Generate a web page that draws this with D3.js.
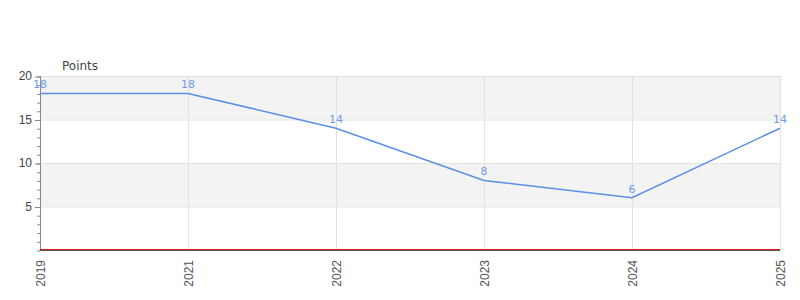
<!DOCTYPE html>
<html>
<head>
<meta charset="utf-8">
<script src="https://cdn.jsdelivr.net/npm/d3@7"></script>
<style>
  body { margin: 0; background: #fff; }
  svg { font-family: "DejaVu Sans", sans-serif; }
</style>
</head>
<body>
<div id="chart"></div>
<script>
"use strict";

var years = ["2019", "2021", "2022", "2023", "2024", "2025"];
var points = [18, 18, 14, 8, 6, 14];
var baseline = [0, 0, 0, 0, 0, 0];
var yTicks = [5, 10, 15, 20];
var yBands = [[15, 20], [5, 10]];

var width = 800, height = 300;
var margin = {top: 76, right: 20, bottom: 50, left: 40};
var innerW = width - margin.left - margin.right;
var innerH = height - margin.top - margin.bottom;

var svg = d3.select("#chart").append("svg")
	.attr("width", width)
	.attr("height", height);

var g = svg.append("g")
	.attr("transform", "translate(" + margin.left + "," + margin.top + ")");

var x = d3.scalePoint().domain(years).range([0, innerW]);
var y = d3.scaleLinear().domain([0, 20]).range([innerH, 0]);

// alternating bands
g.selectAll(".band")
	.data(yBands)
	.enter().append("rect")
	.attr("x", 0)
	.attr("width", innerW)
	.attr("y", function(d) { return y(d[1]); })
	.attr("height", function(d) { return y(d[0]) - y(d[1]); })
	.attr("fill", "#f3f3f3");

// horizontal grid
g.selectAll(".hgrid")
	.data(yTicks)
	.enter().append("line")
	.attr("x1", 0).attr("x2", innerW)
	.attr("y1", function(d) { return y(d) + 0.5; })
	.attr("y2", function(d) { return y(d) + 0.5; })
	.attr("stroke", "#e2e2e2");

// vertical grid
g.selectAll(".vgrid")
	.data(years)
	.enter().append("line")
	.attr("x1", function(d) { return x(d) + 0.5; })
	.attr("x2", function(d) { return x(d) + 0.5; })
	.attr("y1", 0).attr("y2", innerH)
	.attr("stroke", "#e2e2e2");

// y axis with minor ticks
var minor = g.append("g")
	.call(d3.axisLeft(y).ticks(20).tickSize(3).tickFormat(""));
minor.select(".domain").remove();
minor.selectAll("line").attr("stroke", "#888").attr("transform", "translate(0,0.5)");

var yAxis = g.append("g")
	.call(d3.axisLeft(y).tickValues(yTicks).tickSize(5).tickPadding(3));
yAxis.select(".domain").attr("stroke", "#888").attr("d", "M0.5," + (innerH) + "V0");
yAxis.selectAll(".tick line").attr("stroke", "#888").attr("transform", "translate(0,0.5)");
yAxis.selectAll("text")
	.style("font-size", "12px")
	.attr("fill", "#444");

// x axis
var xAxis = g.append("g")
	.attr("transform", "translate(0," + innerH + ")")
	.call(d3.axisBottom(x).tickSize(0));
xAxis.select(".domain").attr("stroke", "#555").attr("d", "M0,0.5H" + innerW);
xAxis.selectAll("text")
	.attr("transform", "rotate(-90)")
	.attr("text-anchor", "end")
	.attr("x", -10)
	.attr("y", 0)
	.attr("dy", "0.35em")
	.style("font-size", "12px")
	.attr("fill", "#555");

// red baseline series
var line = d3.line()
	.x(function(d, i) { return x(years[i]); })
	.y(function(d) { return y(d); });

g.append("path")
	.datum(baseline)
	.attr("d", line)
	.attr("fill", "none")
	.attr("stroke", "#e31a1c")
	.attr("stroke-width", 1)
	.attr("transform", "translate(0,-0.5)");

// points series
g.append("path")
	.datum(points)
	.attr("d", line)
	.attr("fill", "none")
	.attr("stroke", "#5b8ee6")
	.attr("stroke-width", 1.5);

g.selectAll(".lbl")
	.data(points)
	.enter().append("text")
	.attr("x", function(d, i) { return x(years[i]); })
	.attr("y", function(d) { return y(d) - 5; })
	.attr("text-anchor", "middle")
	.style("font-size", "11px")
	.attr("fill", "#6f9be6")
	.text(function(d) { return d; });

// axis title
svg.append("text")
	.attr("x", 62)
	.attr("y", 70)
	.style("font-size", "12px")
	.attr("fill", "#444")
	.text("Points");
</script>
</body>
</html>
